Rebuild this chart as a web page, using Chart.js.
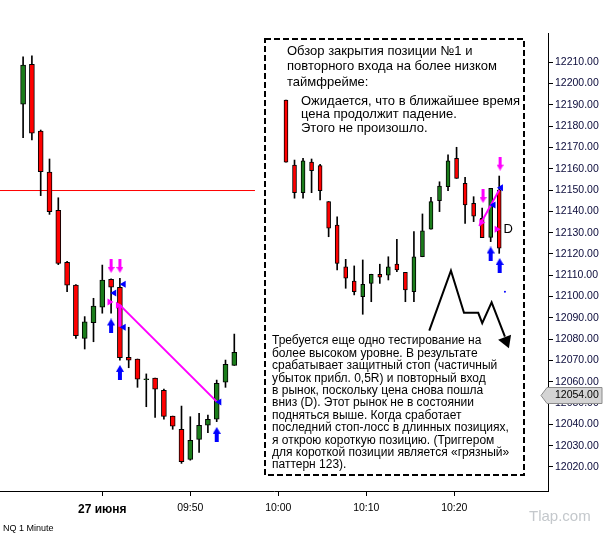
<!DOCTYPE html>
<html><head><meta charset="utf-8">
<script src="https://cdn.jsdelivr.net/npm/chart.js@4.4.1/dist/chart.umd.min.js"></script>
<style>html,body{margin:0;padding:0;background:#fff;overflow:hidden}#wrap{width:603px;height:538px;position:relative}</style>
</head><body><div id="wrap"><canvas id="c" width="603" height="538"></canvas></div>
<script>
// ---- main chart candles (minutes after 09:00) ----
const mainMinutes = [31,32,33,34,35,36,37,38,39,40,41,42,43,44,45,46,47,48,49,50,51,52,53,54,55];
const mainOpen  = [12190.3,12209.1,12177.7,12158.4,12140.5,12116.1,12105.4,12080.4,12087.7,12095.0,12108.1,12104.4,12071.5,12070.7,12061.0,12061.8,12056.0,12043.9,12037.7,12023.6,12033.0,12039.6,12042.4,12059.8,12067.7];
const mainHigh  = [12212.6,12213.0,12178.2,12164.6,12146.4,12116.5,12105.6,12090.6,12099.2,12114.8,12108.3,12108.6,12085.6,12070.7,12063.7,12061.8,12056.6,12043.9,12048.6,12043.6,12045.2,12044.4,12060.8,12070.2,12082.4];
const mainLow   = [12174.6,12173.5,12147.4,12138.6,12115.0,12102.3,12080.4,12075.4,12078.8,12092.2,12092.2,12070.2,12066.6,12057.4,12048.3,12043.3,12042.5,12037.7,12021.7,12023.2,12026.9,12036.1,12041.3,12057.4,12067.7];
const mainClose = [12208.7,12176.7,12158.6,12139.9,12115.6,12105.4,12081.6,12088.1,12095.6,12107.7,12104.4,12071.3,12070.1,12061.2,12061.4,12056.5,12043.8,12039.2,12022.5,12032.5,12039.6,12042.4,12059.3,12068.2,12073.8];

// ---- inset (pasted lower timeframe) candles ----
const insetIndex = [0,1,2,3,4,5,6,7,8,9,10,11,12,13,14,15,16,17,18,19,20,21,22,23,24,25];
const insetOpen  = [12192.3,12161.8,12148.8,12163.1,12161.5,12144.6,12133.6,12114.0,12107.3,12100.0,12106.2,12110.5,12110.1,12115.3,12111.4,12102.3,12118.7,12131.7,12145.0,12151.6,12164.9,12153.2,12143.8,12136.8,12127.8,12150.0];
const insetHigh  = [12192.3,12164.1,12164.9,12164.6,12162.1,12144.6,12137.5,12117.5,12114.4,12117.2,12110.5,12115.2,12118.7,12126.9,12111.4,12130.5,12138.8,12146.6,12153.9,12166.5,12170.1,12156.0,12146.9,12141.5,12150.8,12156.6];
const insetLow   = [12163.1,12146.2,12146.2,12148.8,12145.4,12128.1,12112.5,12103.9,12100.8,12091.7,12097.6,12106.2,12107.8,12111.7,12097.6,12097.6,12118.7,12131.7,12139.9,12149.7,12155.5,12134.4,12135.2,12127.7,12125.8,12120.3];
const insetClose = [12163.1,12148.8,12163.7,12159.1,12149.7,12132.1,12115.6,12108.6,12102.3,12105.8,12110.5,12109.1,12114.0,12112.5,12103.1,12118.7,12130.9,12144.6,12151.9,12163.7,12155.5,12143.0,12137.8,12127.7,12150.8,12122.7];

// ---- ticks ----
const xTickValues = [40,50,60,70,80];
const xTickLabels = ['27 июня','09:50','10:00','10:10','10:20'];
const yTickValues = [12020,12030,12040,12050,12060,12070,12080,12090,12100,12110,12120,12130,12140,12150,12160,12170,12180,12190,12200,12210];

// ---- annotations (data coordinates) ----
const stopLineX = [28.375, 57.35];
const stopLevel = 12149.8;
const lastPrice = 12054;
const mainTradeLineX = [42, 53];
const mainTradeLineY = [12096, 12050.7];
const mainStopSegX = [42, 42];
const mainStopSegY = [12096, 12085.8];
const mainUpX = [41, 42, 53];
const mainUpY = [12086.2, 12064.4, 12035.3];
const mainDownX = [41, 42];
const mainDownY = [12114.4, 12114.4];
const mainLeftX = [42.43, 41.36, 42.43, 53.3];
const mainLeftY = [12105.8, 12101.7, 12085.6, 12050.5];
const mainRightX = [40.82, 41.78];
const mainRightY = [12097.5, 12095.9];

const insetTradeLineX = [22.66, 25.0];
const insetTradeLineY = [12133.1, 12150.0];
const insetUpX = [24.0, 25.05];
const insetUpY = [12120.0, 12114.6];
const insetDownX = [23.1, 25.1];
const insetDownY = [12147.2, 12162.4];
const insetLeftX = [25.2, 24.33];
const insetLeftY = [12151.1, 12143.0];
const insetRightX = [22.9, 24.7];
const insetRightY = [12134.8, 12131.6];
const insetDotX = [25.67];
const insetDotY = [12102.3];
const zigX = [16.8, 19.34, 20.87, 22.54, 23.01, 24.11, 25.67];
const zigY = [12084.0, 12112.2, 12092.4, 12092.4, 12087.5, 12097.3, 12081.2];
const zigHeadX = [25.8];
const zigHeadY = [12079.2];

const textTop1 = ['Обзор закрытия позиции №1 и','повторного входа на более низком','таймфрейме:'];
const textTop2 = ['Ожидается, что в ближайшее время','цена продолжит падение.','Этого не произошло.'];
const textBottom = ['Требуется еще одно тестирование на','более высоком уровне. В результате','срабатывает защитный стоп (частичный','убыток прибл. 0,5R) и повторный вход','в рынок, поскольку цена снова пошла','вниз (D). Этот рынок не в состоянии','подняться выше. Когда сработает','последний стоп-лосс в длинных позициях,','я открою короткую позицию. (Триггером','для короткой позиции является «грязный»','паттерн 123).'];

const GREEN = '#1b7d1b', RED = '#ff0000', BLUE = '#0000ff', MAG = '#ff00ff';
const FONT = "'Liberation Sans', Arial, sans-serif";

function pts(xs, ys){ return xs.map((x,i)=>({x:x, y:ys[i]})); }
function makeArrow(color, up, w, h, hh, sw){
  const c = document.createElement('canvas'); c.width = w; c.height = h;
  const g = c.getContext('2d'); g.fillStyle = color; g.beginPath();
  if (up){ g.moveTo(w/2,0); g.lineTo(w,hh); g.lineTo(0,hh); g.closePath(); g.fill(); g.fillRect(w/2-sw/2, hh-0.5, sw, h-hh+0.5); }
  else { g.moveTo(w/2,h); g.lineTo(w,h-hh); g.lineTo(0,h-hh); g.closePath(); g.fill(); g.fillRect(w/2-sw/2, 0, sw, h-hh+0.5); }
  return c;
}
const upArrow = makeArrow(BLUE, true, 8, 15, 7, 4);
const downArrow = makeArrow(MAG, false, 7, 14, 6, 3);

function candleSets(xs, o, h, l, c, axis, bodyW){
  return [
    { type:'bar', xAxisID:axis, data: xs.map((x,i)=>({x:x, y:[l[i], h[i]]})), backgroundColor:'#000', barThickness:1, grouped:false, order:20 },
    { type:'bar', xAxisID:axis, data: xs.map((x,i)=>({x:x, y:[o[i], c[i]]})),
      backgroundColor: xs.map((x,i)=> c[i] >= o[i] ? GREEN : RED), borderColor:'#000', borderWidth:1, borderSkipped:false,
      barThickness:bodyW, grouped:false, order:19 }
  ];
}
function lineSet(axis, data, color, width, order){
  return { type:'line', xAxisID:axis, data:data, borderColor:color, borderWidth:width, pointRadius:0, tension:0, fill:false, order:order };
}
function markSet(axis, data, style, rot, color, r, order){
  return { type:'scatter', xAxisID:axis, data:data, pointStyle:style, rotation:rot, pointRadius:r, pointBackgroundColor:color, pointBorderColor:color, pointBorderWidth:0, order:order };
}

const datasets = [].concat(
  [ lineSet('x', pts(stopLineX, [stopLevel, stopLevel]), '#ff0000', 1, 30) ],
  candleSets(mainMinutes, mainOpen, mainHigh, mainLow, mainClose, 'x', 5),
  candleSets(insetIndex, insetOpen, insetHigh, insetLow, insetClose, 'x2', 4),
  [
    lineSet('x', pts(mainStopSegX, mainStopSegY), MAG, 3, 5),
    lineSet('x', pts(mainTradeLineX, mainTradeLineY), MAG, 2, 5),
    lineSet('x2', pts(insetTradeLineX, insetTradeLineY), MAG, 2, 5),
    lineSet('x2', pts(zigX, zigY), '#000', 2, 5),
    markSet('x', pts(mainUpX, mainUpY), upArrow, 0, BLUE, 5, 1),
    markSet('x', pts(mainDownX, mainDownY), downArrow, 0, MAG, 5, 1),
    markSet('x', pts(mainLeftX, mainLeftY), 'triangle', -90, BLUE, 4, 1),
    markSet('x', pts(mainRightX, mainRightY), 'triangle', 90, MAG, 4, 1),
    markSet('x2', pts(insetUpX, insetUpY), upArrow, 0, BLUE, 5, 1),
    markSet('x2', pts(insetDownX, insetDownY), downArrow, 0, MAG, 5, 1),
    markSet('x2', pts(insetLeftX, insetLeftY), 'triangle', -90, BLUE, 4, 1),
    markSet('x2', pts(insetRightX, insetRightY), 'triangle', 90, MAG, 4, 1),
    markSet('x2', pts(insetDotX, insetDotY), 'circle', 0, BLUE, 1, 1),
    markSet('x2', pts(zigHeadX, zigHeadY), 'triangle', 159, '#000', 8, 1)
  ]
);

const overlay = {
  id:'overlay',
  beforeDatasetsDraw(chart){
    const g = chart.ctx; g.save();
    g.fillStyle = '#fff'; g.fillRect(265, 39, 259, 436);
    g.setLineDash([6,3]); g.lineWidth = 2; g.strokeStyle = '#000';
    g.strokeRect(265, 39, 259, 436);
    g.restore();
  },
  afterDatasetsDraw(chart){
    const g = chart.ctx; g.save();
    g.fillStyle = '#000'; g.textBaseline = 'middle'; g.textAlign = 'left';
    g.font = '13px ' + FONT;
    textTop1.forEach((t,i)=> g.fillText(t, 287, 51 + i*15.5));
    textTop2.forEach((t,i)=> g.fillText(t, 301, 101 + i*13.5));
    g.font = '12px ' + FONT;
    textBottom.forEach((t,i)=> g.fillText(t, 272, 341 + i*12.4));
    g.font = '13px ' + FONT;
    g.fillText('D', chart.scales.x2.getPixelForValue(25.5), chart.scales.y.getPixelForValue(12131.6));
    g.restore();
  },
  afterDraw(chart){
    const g = chart.ctx; g.save();
    const y = Math.round(chart.scales.y.getPixelForValue(lastPrice)) + 0.5;
    g.beginPath(); g.moveTo(541, y); g.lineTo(547, y-8); g.lineTo(602, y-8); g.lineTo(602, y+8); g.lineTo(547, y+8); g.closePath();
    g.fillStyle = '#d4d4d4'; g.fill(); g.strokeStyle = '#8c8c8c'; g.lineWidth = 1; g.stroke();
    g.fillStyle = '#000'; g.font = '10.5px ' + FONT; g.textBaseline = 'middle'; g.textAlign = 'left';
    g.fillText(lastPrice.toFixed(2), 555, y);
    g.fillStyle = '#c4c8cc'; g.font = '15px ' + FONT; g.fillText('Tlap.com', 529, 517);
    g.fillStyle = '#000'; g.font = '9px ' + FONT; g.fillText('NQ 1 Minute', 3, 529);
    g.restore();
  }
};

Chart.defaults.font.family = FONT;
new Chart(document.getElementById('c'), {
  type:'bar',
  data:{ datasets: datasets },
  options:{
    responsive:false, devicePixelRatio:1, animation:false,
    layout:{ autoPadding:false, padding:{ top:33, left:0, right:0, bottom:0 } },
    plugins:{ legend:{display:false}, tooltip:{enabled:false} },
    scales:{
      x:{ type:'linear', position:'bottom', min:28.375, max:90.648, offset:false,
          grid:{ drawOnChartArea:false, drawTicks:true, tickLength:5, color:'#000', offset:false },
          border:{ display:true, color:'#000', width:1 },
          afterBuildTicks: s => { s.ticks = xTickValues.map(v=>({value:v})); },
          afterFit: s => { s.height = 47; s.paddingLeft = 0; s.paddingRight = 0; },
          ticks:{ autoSkip:false, maxRotation:0, padding:6, color:'#000',
                  font: ctx => (ctx.index === 0 ? {size:12, weight:'bold'} : {size:10.5}),
                  callback: v => xTickLabels[xTickValues.indexOf(v)] } },
      x2:{ type:'linear', display:false, min:-33.53, max:30.72, offset:false, grid:{offset:false} },
      y:{ type:'linear', position:'right', min:12008.73, max:12223.75,
          grid:{ drawOnChartArea:false, drawTicks:true, tickLength:5, color:'#000' },
          border:{ display:true, color:'#000', width:1 },
          afterBuildTicks: s => { s.ticks = yTickValues.map(v=>({value:v})); },
          afterFit: s => { s.width = 55; s.paddingTop = 0; s.paddingBottom = 0; },
          ticks:{ padding:2, color:'#0a0a3a', font:{size:10.5}, callback: v => v.toFixed(2) } }
    }
  },
  plugins:[overlay]
});
</script></body></html>
